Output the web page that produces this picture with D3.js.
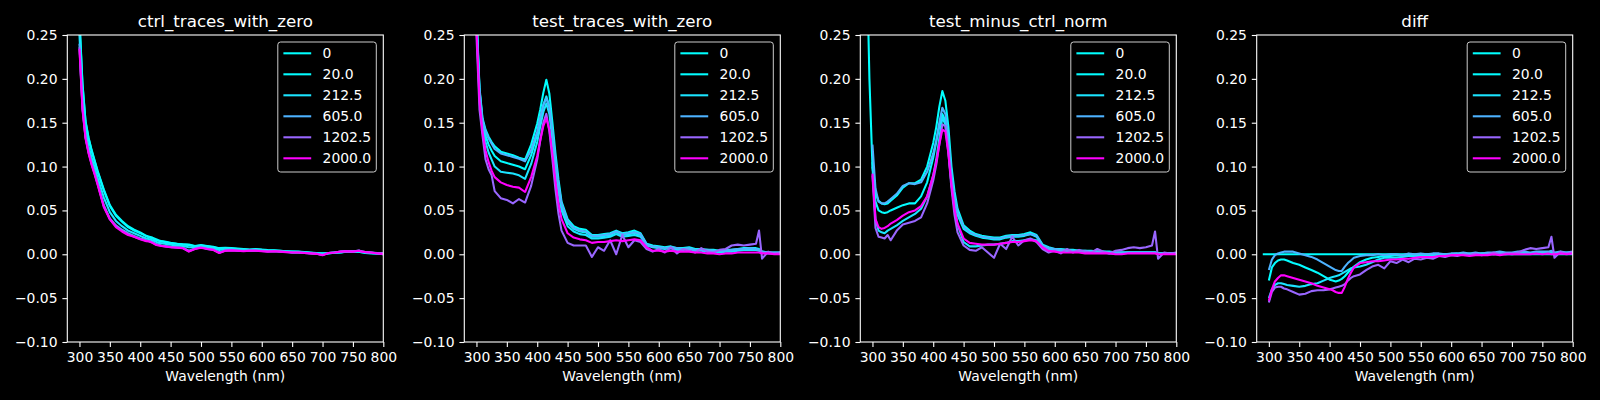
<!DOCTYPE html>
<html>
<head>
<meta charset="utf-8">
<script src="https://cdn.jsdelivr.net/npm/d3@7"></script>
<style>
  body { margin: 0; background: #000; }
  svg { display: block; }
  text { font-family: "DejaVu Sans", sans-serif; }
</style>
</head>
<body>
<svg id="chart"></svg>
<script>
const wavelengths = [
  290, 295, 300, 305, 310, 315, 320, 325, 330, 340,
  350, 360, 370, 380, 390, 400, 405, 410, 415, 420,
  425, 430, 435, 440, 450, 460, 470, 480, 490, 500,
  510, 520, 530, 540, 550, 560, 570, 580, 590, 600,
  610, 620, 630, 640, 650, 660, 670, 680, 690, 700,
  710, 720, 730, 740, 750, 760, 765, 770, 780, 790, 800
];

const doses = [0, 20.0, 212.5, 605.0, 1202.5, 2000.0];
const doseLabels = ["0", "20.0", "212.5", "605.0", "1202.5", "2000.0"];

const xTicks = [300, 350, 400, 450, 500, 550, 600, 650, 700, 750, 800];
const yTicks = [-0.10, -0.05, 0.00, 0.05, 0.10, 0.15, 0.20, 0.25];

// one row per dose, same order as doses
const ctrlTraces = [
  [null, null, 0.268, 0.195, 0.152, 0.133, 0.119, 0.107, 0.095, 0.074,
   0.056, 0.045, 0.038, 0.032, 0.028, 0.025, 0.023, 0.021, 0.020, 0.019,
   0.0175, 0.016, 0.015, 0.0145, 0.013, 0.012, 0.0115, 0.011, 0.0095, 0.0105,
   0.0095, 0.0085, 0.007, 0.0075, 0.007, 0.0065, 0.006, 0.0055, 0.006, 0.0053,
   0.0048, 0.0045, 0.004, 0.0035, 0.003, 0.003, 0.0025, 0.002, 0.0015, 0.001,
   0.0015, 0.002, 0.0025, 0.003, 0.003, 0.003, 0.0025, 0.002, 0.0015, 0.001, 0.0005],
  [null, null, 0.265, 0.193, 0.151, 0.132, 0.118, 0.106, 0.094, 0.073,
   0.055, 0.044, 0.037, 0.031, 0.027, 0.024, 0.0225, 0.0205, 0.019, 0.018,
   0.0165, 0.0155, 0.0145, 0.014, 0.0125, 0.012, 0.011, 0.0105, 0.009, 0.010,
   0.009, 0.008, 0.0065, 0.007, 0.0065, 0.006, 0.0058, 0.005, 0.0055, 0.005,
   0.0045, 0.0042, 0.004, 0.0033, 0.003, 0.0028, 0.0022, 0.0018, 0.0012, 0.0008,
   0.0012, 0.0018, 0.0022, 0.0028, 0.003, 0.0028, 0.002, 0.0015, 0.001, 0.0008, 0.0],
  [null, null, 0.250, 0.180, 0.142, 0.123, 0.110, 0.099, 0.087, 0.065,
   0.048, 0.038, 0.032, 0.027, 0.024, 0.021, 0.0195, 0.018, 0.017, 0.016,
   0.0145, 0.013, 0.0125, 0.012, 0.011, 0.010, 0.0095, 0.008, 0.008, 0.009,
   0.008, 0.007, 0.005, 0.006, 0.0058, 0.0052, 0.005, 0.0048, 0.005, 0.0045,
   0.004, 0.004, 0.0035, 0.003, 0.0025, 0.0025, 0.002, 0.0015, 0.001, 0.0003,
   0.001, 0.0018, 0.0025, 0.003, 0.003, 0.0035, 0.003, 0.0022, 0.0015, 0.001, 0.0],
  [null, null, 0.240, 0.168, 0.134, 0.117, 0.104, 0.093, 0.081, 0.056,
   0.041, 0.033, 0.028, 0.024, 0.021, 0.018, 0.017, 0.016, 0.015, 0.014,
   0.012, 0.011, 0.010, 0.0095, 0.0085, 0.008, 0.0075, 0.004, 0.0065, 0.008,
   0.0065, 0.0055, 0.002, 0.0045, 0.005, 0.0045, 0.004, 0.0042, 0.0045, 0.004,
   0.0035, 0.0038, 0.0032, 0.0028, 0.0022, 0.0022, 0.0018, 0.0012, 0.0008, -0.0005,
   0.0015, 0.002, 0.003, 0.0035, 0.0035, 0.004, 0.003, 0.0025, 0.002, 0.0015, 0.001],
  [null, null, 0.236, 0.166, 0.133, 0.116, 0.103, 0.092, 0.080, 0.055,
   0.040, 0.032, 0.027, 0.023, 0.020, 0.0175, 0.0165, 0.0155, 0.0148, 0.0135,
   0.0115, 0.0105, 0.0098, 0.0092, 0.0082, 0.0078, 0.0072, 0.0035, 0.0062, 0.0078,
   0.0062, 0.0052, 0.0018, 0.0042, 0.0046, 0.0042, 0.0038, 0.0042, 0.0042, 0.0037,
   0.0032, 0.0036, 0.003, 0.0026, 0.002, 0.002, 0.0016, 0.001, 0.0006, -0.0008,
   0.0015, 0.002, 0.003, 0.0036, 0.0032, 0.0042, 0.0032, 0.0026, 0.002, 0.0012, 0.0008],
  [null, null, 0.234, 0.165, 0.132, 0.115, 0.102, 0.091, 0.079, 0.054,
   0.040, 0.031, 0.026, 0.022, 0.020, 0.017, 0.016, 0.015, 0.0145, 0.013,
   0.011, 0.010, 0.0095, 0.009, 0.008, 0.0075, 0.007, 0.003, 0.006, 0.0075,
   0.006, 0.005, 0.0015, 0.004, 0.0045, 0.004, 0.0035, 0.004, 0.004, 0.0035,
   0.003, 0.0035, 0.003, 0.0025, 0.002, 0.002, 0.0015, 0.001, 0.0005, -0.001,
   0.0015, 0.002, 0.003, 0.0035, 0.003, 0.004, 0.003, 0.0025, 0.002, 0.001, 0.0005]
];

const testTraces = [
  [null, null, 0.275, 0.190, 0.155, 0.142, 0.134, 0.128, 0.123, 0.117,
   0.115, 0.113, 0.110, 0.108, 0.125, 0.149, 0.165, 0.184, 0.199, 0.183,
   0.150, 0.115, 0.085, 0.060, 0.040, 0.032, 0.029, 0.028, 0.022, 0.022,
   0.023, 0.024, 0.027, 0.024, 0.025, 0.027, 0.024, 0.012, 0.010, 0.009,
   0.008, 0.009, 0.007, 0.007, 0.008, 0.006, 0.006, 0.005, 0.005, 0.004,
   0.005, 0.005, 0.006, 0.007, 0.007, 0.007, 0.006, 0.003, 0.002, 0.002, 0.002],
  [null, null, 0.270, 0.186, 0.150, 0.135, 0.125, 0.118, 0.112, 0.106,
   0.104, 0.102, 0.100, 0.097, 0.113, 0.137, 0.154, 0.170, 0.180, 0.168,
   0.138, 0.105, 0.077, 0.055, 0.036, 0.029, 0.026, 0.025, 0.020, 0.020,
   0.021, 0.022, 0.025, 0.022, 0.023, 0.024, 0.022, 0.011, 0.009, 0.008,
   0.007, 0.008, 0.006, 0.006, 0.007, 0.005, 0.005, 0.004, 0.004, 0.003,
   0.004, 0.004, 0.005, 0.006, 0.006, 0.006, 0.005, 0.002, 0.002, 0.001, 0.001],
  [null, null, 0.265, 0.182, 0.146, 0.128, 0.116, 0.108, 0.100, 0.094,
   0.093, 0.092, 0.090, 0.086, 0.103, 0.128, 0.146, 0.162, 0.172, 0.160,
   0.130, 0.098, 0.071, 0.050, 0.032, 0.026, 0.023, 0.022, 0.018, 0.018,
   0.019, 0.020, 0.023, 0.020, 0.021, 0.022, 0.020, 0.010, 0.008, 0.007,
   0.006, 0.007, 0.005, 0.005, 0.006, 0.004, 0.004, 0.003, 0.003, 0.002,
   0.003, 0.003, 0.004, 0.005, 0.005, 0.005, 0.004, 0.002, 0.001, 0.001, 0.001],
  [null, null, 0.272, 0.188, 0.153, 0.140, 0.132, 0.126, 0.120, 0.115,
   0.113, 0.111, 0.109, 0.106, 0.119, 0.140, 0.156, 0.170, 0.178, 0.168,
   0.140, 0.108, 0.080, 0.058, 0.038, 0.030, 0.027, 0.026, 0.021, 0.021,
   0.022, 0.023, 0.026, 0.023, 0.024, 0.025, 0.023, 0.011, 0.009, 0.008,
   0.007, 0.008, 0.007, 0.006, 0.007, 0.005, 0.005, 0.005, 0.004, 0.004,
   0.004, 0.005, 0.006, 0.006, 0.007, 0.006, 0.005, 0.003, 0.002, 0.002, 0.002],
  [null, null, 0.250, 0.165, 0.135, 0.108, 0.097, 0.090, 0.072, 0.064,
   0.062, 0.058, 0.063, 0.059, 0.078, 0.108, 0.130, 0.150, 0.160, 0.140,
   0.108, 0.074, 0.046, 0.027, 0.013, 0.010, 0.010, 0.010, -0.003, 0.008,
   0.004, 0.016, 0.000, 0.022, 0.008, 0.016, 0.014, 0.006, 0.003, 0.006,
   0.002, 0.008, 0.001, 0.006, 0.004, 0.002, 0.007, 0.003, 0.002, 0.005,
   0.006, 0.010, 0.011, 0.010, 0.011, 0.012, 0.027, -0.005, 0.003, 0.001, 0.002],
  [null, null, 0.260, 0.175, 0.140, 0.118, 0.105, 0.095, 0.088, 0.082,
   0.079, 0.077, 0.076, 0.071, 0.088, 0.112, 0.130, 0.146, 0.155, 0.142,
   0.115, 0.084, 0.058, 0.040, 0.024, 0.019, 0.017, 0.016, 0.013, 0.014,
   0.014, 0.015, 0.016, 0.015, 0.016, 0.017, 0.016, 0.008, 0.004, 0.004,
   0.003, 0.004, 0.003, 0.003, 0.003, 0.002, 0.002, 0.001, 0.001, 0.000,
   0.001, 0.001, 0.002, 0.002, 0.002, 0.002, 0.002, 0.001, 0.001, 0.000, 0.000]
];

const testMinusCtrl = [
  [0.360, 0.200, 0.100, 0.070, 0.061, 0.058, 0.057, 0.058, 0.061, 0.067,
   0.076, 0.081, 0.081, 0.085, 0.100, 0.127, 0.145, 0.168, 0.186, 0.175,
   0.145, 0.100, 0.072, 0.052, 0.033, 0.027, 0.023, 0.021, 0.020, 0.019,
   0.019, 0.021, 0.022, 0.022, 0.023, 0.025, 0.022, 0.011, 0.008, 0.006,
   0.006, 0.005, 0.005, 0.004, 0.004, 0.004, 0.003, 0.003, 0.003, 0.002,
   0.002, 0.002, 0.002, 0.002, 0.002, 0.002, 0.002, 0.001, 0.001, 0.001, 0.001],
  [null, null, 0.105, 0.060, 0.050, 0.048, 0.047, 0.048, 0.050, 0.053,
   0.056, 0.058, 0.058, 0.066, 0.082, 0.110, 0.128, 0.146, 0.160, 0.152,
   0.125, 0.088, 0.062, 0.045, 0.029, 0.024, 0.021, 0.019, 0.018, 0.017,
   0.017, 0.019, 0.020, 0.020, 0.021, 0.023, 0.020, 0.010, 0.007, 0.005,
   0.005, 0.004, 0.004, 0.004, 0.003, 0.003, 0.003, 0.002, 0.002, 0.002,
   0.002, 0.002, 0.002, 0.002, 0.002, 0.002, 0.002, 0.001, 0.001, 0.001, 0.001],
  [null, null, 0.100, 0.040, 0.027, 0.025, 0.024, 0.027, 0.029, 0.033,
   0.038, 0.042, 0.046, 0.052, 0.066, 0.090, 0.108, 0.132, 0.156, 0.148,
   0.118, 0.080, 0.052, 0.034, 0.014, 0.009, 0.009, 0.010, 0.011, 0.011,
   0.012, 0.013, 0.015, 0.015, 0.016, 0.017, 0.016, 0.008, 0.005, 0.004,
   0.003, 0.003, 0.003, 0.003, 0.002, 0.002, 0.002, 0.002, 0.001, 0.001,
   0.001, 0.002, 0.002, 0.002, 0.002, 0.002, 0.002, 0.001, 0.001, 0.001, 0.001],
  [null, null, 0.125, 0.075, 0.060, 0.058, 0.058, 0.060, 0.063, 0.069,
   0.078, 0.081, 0.080, 0.082, 0.094, 0.115, 0.130, 0.150, 0.167, 0.160,
   0.132, 0.092, 0.066, 0.048, 0.031, 0.025, 0.022, 0.020, 0.019, 0.018,
   0.018, 0.020, 0.021, 0.021, 0.022, 0.023, 0.021, 0.010, 0.007, 0.006,
   0.005, 0.005, 0.004, 0.004, 0.004, 0.003, 0.003, 0.003, 0.002, 0.002,
   0.002, 0.002, 0.002, 0.002, 0.002, 0.002, 0.002, 0.001, 0.001, 0.001, 0.001],
  [null, null, 0.090, 0.030, 0.020, 0.019, 0.018, 0.022, 0.016, 0.027,
   0.034, 0.036, 0.038, 0.042, 0.058, 0.084, 0.102, 0.125, 0.148, 0.146,
   0.115, 0.075, 0.045, 0.025, 0.010, 0.005, 0.004, 0.008, 0.002, -0.004,
   0.012, 0.006, 0.020, 0.010, 0.016, 0.018, 0.014, 0.006, 0.002, 0.004,
   0.001, 0.006, 0.002, 0.005, 0.003, 0.002, 0.006, 0.003, 0.001, 0.004,
   0.005, 0.007, 0.008, 0.007, 0.008, 0.010, 0.026, -0.005, 0.002, 0.001, 0.002],
  [null, null, 0.092, 0.040, 0.031, 0.029, 0.030, 0.032, 0.035, 0.039,
   0.044, 0.048, 0.050, 0.055, 0.066, 0.090, 0.105, 0.125, 0.142, 0.140,
   0.115, 0.080, 0.052, 0.035, 0.018, 0.013, 0.012, 0.011, 0.011, 0.011,
   0.012, 0.013, 0.014, 0.014, 0.015, 0.016, 0.015, 0.008, 0.004, 0.003,
   0.002, 0.002, 0.002, 0.002, 0.001, 0.001, 0.001, 0.001, 0.001, 0.000,
   0.000, 0.001, 0.001, 0.001, 0.001, 0.001, 0.001, 0.000, 0.000, 0.000, 0.000]
];

const diffTraces = [
  [0, 0, 0, 0, 0, 0, 0, 0, 0, 0,
   0, 0, 0, 0, 0, 0, 0, 0, 0, 0,
   0, 0, 0, 0, 0, 0, 0, 0, 0, 0,
   0, 0, 0, 0, 0, 0, 0, 0, 0, 0,
   0, 0, 0, 0, 0, 0, 0, 0, 0, 0,
   0, 0, 0, 0, 0, 0, 0, 0, 0, 0, 0],
  [null, null, -0.030, -0.015, -0.010, -0.007, -0.006, -0.006, -0.007, -0.010,
   -0.012, -0.015, -0.018, -0.021, -0.025, -0.029, -0.030, -0.031, -0.030, -0.028,
   -0.025, -0.021, -0.017, -0.014, -0.009, -0.006, -0.004, -0.003, -0.002, -0.002,
   -0.001, -0.002, 0.000, -0.001, -0.001, 0.000, -0.001, 0.000, 0.000, 0.000,
   0.001, 0.000, 0.001, 0.000, 0.001, 0.001, 0.000, 0.001, 0.000, 0.001,
   0.001, 0.002, 0.001, 0.002, 0.001, 0.002, 0.002, 0.001, 0.001, 0.002, 0.002],
  [null, null, -0.050, -0.040, -0.035, -0.033, -0.033, -0.034, -0.035, -0.036,
   -0.037, -0.036, -0.034, -0.033, -0.030, -0.027, -0.026, -0.025, -0.024, -0.022,
   -0.020, -0.018, -0.016, -0.015, -0.014, -0.012, -0.009, -0.006, -0.004, -0.004,
   -0.004, -0.003, -0.002, -0.002, -0.002, -0.001, -0.001, -0.001, 0.000, 0.000,
   0.000, 0.000, 0.000, 0.000, 0.001, 0.000, 0.001, 0.000, 0.001, 0.000,
   0.001, 0.001, 0.001, 0.001, 0.002, 0.001, 0.002, 0.001, 0.001, 0.001, 0.001],
  [null, null, -0.018, -0.006, -0.001, 0.001, 0.002, 0.003, 0.003, 0.003,
   0.001, -0.001, -0.003, -0.006, -0.010, -0.014, -0.016, -0.018, -0.019, -0.019,
   -0.014, -0.010, -0.007, -0.004, -0.002, -0.001, -0.001, 0.000, -0.001, 0.000,
   0.000, -0.001, 0.001, 0.000, 0.001, 0.000, 0.001, 0.001, 0.000, 0.001,
   0.001, 0.002, 0.001, 0.002, 0.001, 0.002, 0.002, 0.003, 0.002, 0.002,
   0.003, 0.003, 0.002, 0.003, 0.003, 0.003, 0.004, 0.002, 0.003, 0.002, 0.003],
  [null, null, -0.055, -0.043, -0.038, -0.037, -0.037, -0.039, -0.040, -0.043,
   -0.046, -0.045, -0.042, -0.041, -0.041, -0.040, -0.039, -0.038, -0.037, -0.036,
   -0.034, -0.030, -0.027, -0.025, -0.023, -0.018, -0.014, -0.012, -0.016, -0.008,
   -0.010, -0.006, -0.009, -0.005, -0.006, -0.004, -0.005, -0.002, -0.003, -0.001,
   -0.002, 0.000, -0.001, 0.001, -0.001, 0.000, 0.002, 0.000, 0.001, 0.001,
   0.002, 0.005, 0.007, 0.006, 0.007, 0.008, 0.020, -0.004, 0.003, 0.001, 0.003],
  [null, null, -0.053, -0.040, -0.031, -0.027, -0.024, -0.024, -0.025, -0.027,
   -0.029, -0.031, -0.033, -0.036, -0.038, -0.040, -0.041, -0.043, -0.044, -0.044,
   -0.037, -0.028, -0.021, -0.015, -0.010, -0.009, -0.008, -0.008, -0.007, -0.006,
   -0.006, -0.005, -0.005, -0.004, -0.003, -0.003, -0.003, -0.002, -0.002, -0.001,
   -0.001, -0.001, -0.002, -0.001, -0.001, -0.001, 0.000, -0.001, 0.000, 0.000,
   0.000, 0.000, 0.000, 0.001, 0.000, 0.001, 0.000, 0.000, 0.001, 0.000, 0.001]
];

const panels = [
  { title: "ctrl_traces_with_zero", traces: ctrlTraces },
  { title: "test_traces_with_zero", traces: testTraces },
  { title: "test_minus_ctrl_norm", traces: testMinusCtrl },
  { title: "diff", traces: diffTraces }
];

// sanity check on hand typed rows
panels.forEach(p => p.traces.forEach((t, i) => {
  if (t.length !== wavelengths.length) {
    throw new Error(p.title + " row " + i + " has " + t.length + " values");
  }
}));

const width = 1600;
const height = 400;
const axTop = 35;
const plotW = 316;
const plotH = 307;
const axLefts = [67.3, 464.3, 860.3, 1256.7];

const fontSize = 13.9;
const tickLen = 4.9;

const svg = d3.select("#chart")
  .attr("width", width)
  .attr("height", height)
  .style("background", "#000");

const x = d3.scaleLinear().domain([280, 800]).range([0, plotW]);
const y = d3.scaleLinear().domain([-0.10, 0.25]).range([plotH, 0]);
const color = d3.scaleLinear().domain([0, 2000]).range(["#00ffff", "#ff00ff"]);

const line = d3.line()
  .defined(d => d[1] !== null)
  .x(d => x(d[0]))
  .y(d => y(d[1]));

panels.forEach((p, pi) => {
  const g = svg.append("g")
    .attr("transform", `translate(${axLefts[pi]},${axTop})`);

  g.append("clipPath")
    .attr("id", "clip" + pi)
    .append("rect")
    .attr("width", plotW)
    .attr("height", plotH);

  const lines = g.append("g").attr("clip-path", `url(#clip${pi})`);
  p.traces.forEach((t, i) => {
    lines.append("path")
      .datum(wavelengths.map((w, k) => [w, t[k]]))
      .attr("fill", "none")
      .attr("stroke", color(doses[i]))
      .attr("stroke-width", 2.08)
      .attr("stroke-linejoin", "round")
      .attr("d", line);
  });

  const xAxis = g.append("g")
    .attr("transform", `translate(0,${plotH})`)
    .call(d3.axisBottom(x).tickValues(xTicks).tickSize(tickLen).tickPadding(5.5).tickFormat(d3.format("d")));
  const yAxis = g.append("g")
    .call(d3.axisLeft(y).tickValues(yTicks).tickSize(tickLen).tickPadding(4.9).tickFormat(d3.format(".2f")));

  [xAxis, yAxis].forEach(a => {
    a.select(".domain").remove();
    a.selectAll(".tick line").attr("stroke", "#fff").attr("stroke-width", 1.1);
    a.selectAll(".tick text")
      .attr("fill", "#fff")
      .style("font-size", fontSize + "px")
      .style("font-family", "'DejaVu Sans', sans-serif");
  });

  g.append("rect")
    .attr("width", plotW)
    .attr("height", plotH)
    .attr("fill", "none")
    .attr("stroke", "#fff")
    .attr("stroke-width", 1.1);

  g.append("text")
    .attr("x", plotW / 2)
    .attr("y", -8.3)
    .attr("text-anchor", "middle")
    .attr("fill", "#fff")
    .style("font-size", "16.7px")
    .text(p.title);

  g.append("text")
    .attr("x", plotW / 2)
    .attr("y", plotH + 39)
    .attr("text-anchor", "middle")
    .attr("fill", "#fff")
    .style("font-size", fontSize + "px")
    .text("Wavelength (nm)");

  // legend, upper right
  const legW = 98.5;
  const legH = 130;
  const leg = g.append("g")
    .attr("transform", `translate(${plotW - 7 - legW},7)`);
  leg.append("rect")
    .attr("width", legW)
    .attr("height", legH)
    .attr("rx", 2.8)
    .attr("fill", "#000")
    .attr("fill-opacity", 0.8)
    .attr("stroke", "#cccccc")
    .attr("stroke-width", 1);
  doseLabels.forEach((lab, i) => {
    const cy = 11.3 + i * 21;
    leg.append("line")
      .attr("x1", 5.6).attr("x2", 33.4)
      .attr("y1", cy).attr("y2", cy)
      .attr("stroke", color(doses[i]))
      .attr("stroke-width", 2.08);
    leg.append("text")
      .attr("x", 44.8)
      .attr("y", cy + 5)
      .attr("fill", "#fff")
      .style("font-size", fontSize + "px")
      .text(lab);
  });
});
</script>
</body>
</html>
